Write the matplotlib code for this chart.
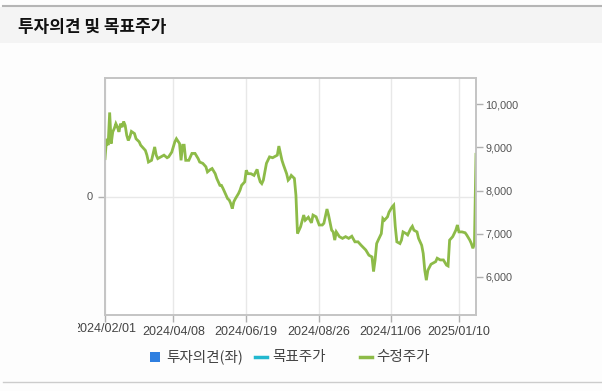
import matplotlib
matplotlib.use("Agg")
import matplotlib.pyplot as plt
from matplotlib.lines import Line2D
from matplotlib.patches import Rectangle
from matplotlib.transforms import Bbox, TransformedBbox, blended_transform_factory

plt.rcParams['font.family'] = ['Noto Sans CJK KR', 'DejaVu Sans']

title = "투자의견 및 목표주가"

# trading-day index (0 = 2024/02/01) and adjusted price
day = [0, 1, 2, 3, 4, 5, 6, 7, 8, 9, 10, 11, 12, 13, 14, 15, 16, 17, 19, 20,
       22, 23, 26, 27, 28, 30, 31, 32, 33, 34, 36, 38, 40, 41, 43, 45, 46, 48,
       49, 50, 51, 52, 54, 56, 58, 60, 61, 63, 65, 66, 68, 69, 71, 72, 74, 75,
       76, 77, 79, 80, 81, 82, 83, 84, 86, 87, 88, 90, 91, 92, 94, 96, 98, 99,
       100, 101, 102, 103, 104, 106, 108, 109, 111, 112, 113, 114, 115, 117,
       118, 119, 120, 122, 123, 124, 126, 128, 129, 131, 133, 134, 136, 138,
       140, 141, 143, 144, 146, 147, 148, 149, 151, 153, 155, 157, 159, 161,
       163, 165, 168, 170, 172, 173, 174, 175, 176, 178, 179, 180, 182, 183,
       185, 186, 187, 188, 190, 191, 192, 194, 195, 197, 198, 199, 201, 202,
       204, 205, 206, 207, 208, 210, 211, 213, 214, 216, 218, 220, 221, 222,
       224, 226, 227, 228, 230, 232, 233, 235, 236, 237, 238, 239]
price = [8740, 9200, 9050, 9810, 9090, 9360, 9440, 9550, 9470, 9360, 9550,
         9470, 9600, 9510, 9280, 9160, 9240, 9370, 9320, 9200, 9130, 9050,
         8930, 8820, 8660, 8700, 8860, 9010, 8820, 8740, 8780, 8820, 8760,
         8780, 8890, 9130, 9200, 9090, 8700, 9050, 9050, 8700, 8700, 8860,
         8860, 8740, 8660, 8630, 8550, 8430, 8490, 8510, 8390, 8280, 8120,
         8120, 8050, 7970, 7810, 7780, 7700, 7580, 7740, 7810, 7930, 8010,
         8120, 8200, 8470, 8390, 8390, 8350, 8490, 8320, 8200, 8160, 8240,
         8430, 8630, 8780, 8760, 8780, 8820, 9030, 8860, 8700, 8590, 8390,
         8240, 8280, 8350, 8280, 7890, 7000, 7160, 7430, 7310, 7380, 7250,
         7430, 7390, 7200, 7200, 7240, 7570, 7430, 7080, 7040, 6850, 7040,
         6930, 6890, 6930, 6890, 6940, 6810, 6810, 6730, 6620, 6500, 6460,
         6120, 6390, 6770, 6850, 7000, 7350, 7310, 7390, 7500, 7620, 7660,
         7160, 6810, 6770, 6850, 7040, 7000, 6970, 7120, 7170, 7080, 7040,
         6890, 6730, 6540, 6150, 5920, 6150, 6290, 6310, 6350, 6430, 6390,
         6390, 6270, 6250, 6850, 6930, 7080, 7200, 7040, 7040, 7020, 6970,
         6850, 6770, 6660, 6770, 8840]

tick_days = [0, 44, 91, 138, 184, 228]
tick_labels = ["2024/02/01", "2024/04/08", "2024/06/19", "2024/08/26",
               "2024/11/06", "2025/01/10"]
price_ticks = [6000, 7000, 8000, 9000, 10000]
legend_labels = ["투자의견(좌)", "목표주가", "수정주가"]

W, H = 602, 391
fig = plt.figure(figsize=(W / 100, H / 100), dpi=100)
fig.patch.set_facecolor("#fdfdfd")

# header band and frame lines
fig.add_artist(Rectangle((0, 1 - 43 / H), 1, 36 / H, transform=fig.transFigure,
                         facecolor="#f4f4f4", edgecolor="none"))
fig.add_artist(Line2D([3 / W, 1], [1 - 6 / H, 1 - 6 / H], transform=fig.transFigure,
                      color="#b5b5b5", lw=1.5))
fig.add_artist(Line2D([3 / W, 1], [1 - 381.5 / H, 1 - 381.5 / H],
                      transform=fig.transFigure, color="#cccccc", lw=1))
fig.text(18 / W, 1 - 26.5 / H, title, fontsize=12.2, fontweight="bold",
         va="center", ha="left", color="#111111")

ax = fig.add_axes([105 / W, 1 - 315 / H, 371 / W, 237 / H])
ax.set_facecolor("white")
ax.set_xlim(0, 239)
ax.set_ylim(-1, 1)
ax.set_yticks([0])
ax.set_yticklabels(["0"], family=["Liberation Sans"])
ax.set_xticks(tick_days)
# first label drawn separately so it can be clipped at the canvas edge
ax.set_xticklabels([""] + tick_labels[1:], family=["Liberation Sans"])
ax.grid(True, color="#e8e8e8", lw=1)
ax.tick_params(axis="both", colors="#b0b0b0", labelcolor="#444444",
               length=5, width=1)
ax.tick_params(axis="x", labelsize=9, pad=3)
ax.tick_params(axis="y", labelsize=8, pad=4, labelcolor="#555555")
for s in ax.spines.values():
    s.set_color("#c4c4c4")
    s.set_linewidth(1.2)

trans = blended_transform_factory(ax.transData, fig.transFigure)
t0 = ax.text(tick_days[0], 1 - 329.5 / H, tick_labels[0], transform=trans,
             ha="center", va="center", fontsize=9, color="#444444",
             family=["Liberation Sans"])
t0.set_clip_box(TransformedBbox(Bbox([[78 / W, 0], [1, 1]]), fig.transFigure))
t0.set_clip_on(True)

ax2 = ax.twinx()
ax2.plot(day, price, color="#8dbb48", lw=2.0, solid_joinstyle="miter")
ax2.set_xlim(0, 239)
ax2.set_ylim(5113, 10609)
ax2.set_yticks(price_ticks)
ax2.set_yticklabels([f"{v:,}" for v in price_ticks], family=["Liberation Sans"])
ax2.tick_params(axis="y", colors="#b0b0b0", labelcolor="#555555",
                labelsize=7.8, length=5, width=1, pad=1.5)
for s in ax2.spines.values():
    s.set_color("#c4c4c4")
    s.set_linewidth(1.2)

# legend
ly = 1 - 357 / H
fig.add_artist(Rectangle((150 / W, ly - 5 / H), 10 / W, 10 / H,
                         transform=fig.transFigure, facecolor="#2f7fe0",
                         edgecolor="none"))
fig.text(166 / W, ly, legend_labels[0], fontsize=10.5, va="center",
         color="#444444")
fig.add_artist(Line2D([255 / W, 267 / W], [ly, ly], transform=fig.transFigure,
                      color="#22b8cf", lw=2.5))
fig.text(272 / W, ly, legend_labels[1], fontsize=10.5, va="center",
         color="#444444")
fig.add_artist(Line2D([360 / W, 372 / W], [ly, ly], transform=fig.transFigure,
                      color="#8dbb48", lw=2.5))
fig.text(376 / W, ly, legend_labels[2], fontsize=10.5, va="center",
         color="#444444")

fig.savefig("out.png", dpi=100, facecolor=fig.get_facecolor())
